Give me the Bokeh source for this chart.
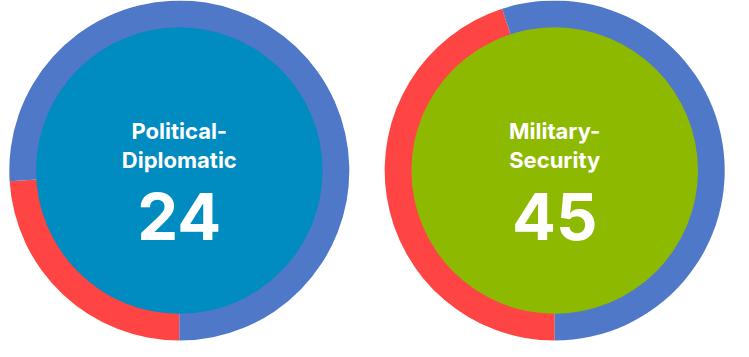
import math
from bokeh.plotting import figure
from bokeh.models import Range1d, ColumnDataSource
from bokeh.core.properties import value
from bokeh.embed import file_html
from bokeh.resources import INLINE

# ---- data ----
categories = ["Political-Diplomatic", "Military-Security"]
label_line1 = ["Political-", "Military-"]
label_line2 = ["Diplomatic", "Security"]
scores = [24, 45]
inner_colors = ["#008BC1", "#8DBA00"]

RED = "#FF4444"
BLUE = "#5078C8"

# ---- layout (reference pixel units) ----
REF_W, REF_H = 749, 357
W, H = 733, 341
s = H / REF_H
span_x = W / s
x0 = REF_W / 2 - span_x / 2

centers_x = [178, 571]
cy = REF_H - 178
R_OUT, R_IN = 178, 150

p = figure(width=W, height=H, output_backend="svg", toolbar_location=None,
           x_range=Range1d(x0, x0 + span_x), y_range=Range1d(0, REF_H),
           min_border=0, outline_line_color=None, background_fill_color="white",
           border_fill_color="white")
p.axis.visible = False
p.grid.visible = False

red_start, red_end, blue_start, blue_end = [], [], [], []
for v in scores:
    frac = v / 100.0
    bottom = 1.5 * math.pi
    red_start.append(bottom - 2 * math.pi * frac)
    red_end.append(bottom)
    blue_start.append(bottom)
    blue_end.append(bottom - 2 * math.pi * frac + 2 * math.pi)

src = ColumnDataSource(dict(
    x=centers_x, y=[cy] * len(centers_x),
    rs=red_start, re=red_end, bs=blue_start, be=blue_end,
    inner=inner_colors,
    l1=label_line1, l2=label_line2,
    num=[str(v) for v in scores],
    y1=[cy + 41] * 2, y2=[cy + 11] * 2, y3=[cy - 48] * 2,
))

p.wedge(x="x", y="y", radius=R_OUT, start_angle="rs", end_angle="re",
        fill_color=RED, line_color=None, source=src)
p.wedge(x="x", y="y", radius=R_OUT, start_angle="bs", end_angle="be",
        fill_color=BLUE, line_color=None, source=src)
p.circle(x="x", y="y", radius=R_IN, fill_color="inner", line_color=None, source=src)

common = dict(text_color="white", text_font=value("Inter"), text_font_style="bold",
              text_align="center", text_baseline="alphabetic", source=src)
p.text(x="x", y="y1", text="l1", text_font_size="22px", **common)
p.text(x="x", y="y2", text="l2", text_font_size="22px", **common)
p.text(x="x", y="y3", text="num", text_font_size="65px", **common)

open("out.html", "w").write(file_html(p, INLINE))
